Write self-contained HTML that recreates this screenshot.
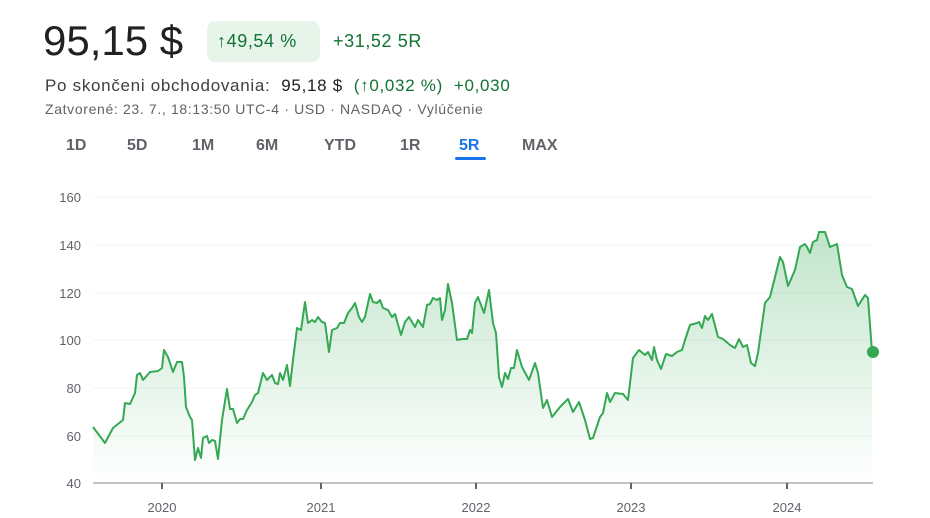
<!DOCTYPE html>
<html><head><meta charset="utf-8"><style>
body{margin:0;width:930px;height:518px;background:#fff;font-family:"Liberation Sans",Arial,sans-serif;position:relative;overflow:hidden}
.a{position:absolute;white-space:nowrap}
</style></head><body>
<div class="a" style="left:43px;top:17px;font-size:42px;color:#202124">95,15 $</div>
<div class="a" style="left:207px;top:21px;width:113px;height:41px;background:#e6f4ea;border-radius:8px"></div>
<div class="a" style="left:217px;top:31px;font-size:18px;color:#137333;letter-spacing:0.6px">↑49,54 %</div>
<div class="a" style="left:333px;top:31px;font-size:18px;color:#137333;letter-spacing:0.6px">+31,52 5R</div>
<div class="a" style="left:45px;top:76px;font-size:17px;color:#3c4043;letter-spacing:0.7px">Po skončeni obchodovania:&nbsp; <span style="color:#202124">95,18 $</span>&nbsp; <span style="color:#137333">(↑0,032 %)&nbsp; +0,030</span></div>
<div class="a" style="left:45px;top:101px;font-size:14px;color:#5f6368;letter-spacing:0.65px">Zatvorené: 23. 7., 18:13:50 UTC-4 · USD · NASDAQ · Vylúčenie</div>
<div class="a" style="top:137px;font-size:16px;color:#5f6368;left:0;width:930px;font-weight:bold">
<span class="a" style="left:66px">1D</span><span class="a" style="left:127px">5D</span><span class="a" style="left:192px">1M</span><span class="a" style="left:256px">6M</span><span class="a" style="left:324px">YTD</span><span class="a" style="left:400px">1R</span><span class="a" style="left:459px;color:#1a73e8">5R</span><span class="a" style="left:522px">MAX</span></div>
<div class="a" style="left:455px;top:157px;width:31px;height:3px;background:#1a73e8;border-radius:2px"></div>
<svg class="a" style="left:0;top:0" width="930" height="518">
<defs><linearGradient id="g" x1="0" y1="0" x2="0" y2="1"><stop offset="0" stop-color="#34a853" stop-opacity="0.3"/><stop offset="1" stop-color="#34a853" stop-opacity="0"/></linearGradient></defs>
<g stroke="#f1f3f4" stroke-width="1">
<line x1="93" x2="873" y1="197" y2="197"/><line x1="93" x2="873" y1="245" y2="245"/><line x1="93" x2="873" y1="293" y2="293"/><line x1="93" x2="873" y1="340" y2="340"/><line x1="93" x2="873" y1="388" y2="388"/><line x1="93" x2="873" y1="436" y2="436"/></g>
<g font-size="13" fill="#5f6368" text-anchor="end" font-family="Liberation Sans,Arial,sans-serif">
<text x="81" y="202">160</text><text x="81" y="250">140</text><text x="81" y="298">120</text><text x="81" y="345">100</text><text x="81" y="393">80</text><text x="81" y="441">60</text><text x="81" y="488">40</text></g>
<g font-size="13" fill="#5f6368" text-anchor="middle" font-family="Liberation Sans,Arial,sans-serif">
<text x="162" y="512">2020</text><text x="321" y="512">2021</text><text x="476" y="512">2022</text><text x="631" y="512">2023</text><text x="787" y="512">2024</text></g>
<path d="M93,427 L105,443 L113,428 L123,420 L125,403 L130,404 L135,393 L137,375 L140,373 L143,380 L150,372 L158,371 L162,368 L164,350 L168,357 L173,372 L177,362 L182,362 L184,377 L186,407 L190,417 L192,420 L195,460 L198,448 L201,458 L203,438 L207,436 L209,443 L212,440 L215,441 L218,459 L222,420 L227,389 L230,409 L233,409 L237,423 L240,419 L243,419 L247,410 L252,402 L255,395 L258,393 L263,373 L267,380 L272,375 L275,383 L278,384 L280,373 L283,380 L287,365 L290,386 L293,360 L297,328 L301,330 L305,302 L308,323 L312,320 L315,322 L318,317 L322,322 L325,323 L329,352 L332,330 L337,328 L340,323 L344,323 L348,313 L352,308 L355,303 L359,317 L362,322 L365,317 L370,294 L373,302 L377,303 L380,300 L383,308 L388,310 L392,317 L395,314 L401,335 L405,322 L409,317 L415,327 L418,320 L423,327 L427,305 L430,304 L433,298 L437,300 L440,298 L442,320 L445,310 L448,284 L452,303 L457,340 L462,339 L467,339 L470,330 L472,333 L475,303 L478,297 L484,313 L489,290 L493,323 L496,333 L499,377 L502,387 L505,373 L508,379 L511,368 L514,368 L517,350 L522,367 L529,380 L535,363 L538,373 L543,408 L547,400 L552,417 L560,407 L568,399 L573,412 L579,402 L585,420 L590,439 L593,438 L600,417 L603,413 L607,393 L610,402 L615,393 L623,394 L628,400 L633,358 L639,350 L645,355 L648,352 L652,360 L654,347 L657,360 L661,369 L666,354 L672,356 L677,352 L682,350 L685,340 L690,325 L697,323 L699,322 L702,328 L705,316 L708,320 L712,314 L718,337 L723,339 L730,345 L735,348 L739,339 L743,347 L747,345 L751,363 L755,366 L758,353 L765,303 L770,297 L780,257 L783,262 L788,286 L795,270 L800,247 L805,244 L807,247 L810,253 L813,242 L817,240 L819,232 L825,232 L830,247 L837,244 L842,275 L847,287 L852,289 L858,306 L865,295 L868,298 L872,352" fill="none" stroke="#34a853" stroke-width="2" stroke-linejoin="round"/>
<path d="M93,427 L105,443 L113,428 L123,420 L125,403 L130,404 L135,393 L137,375 L140,373 L143,380 L150,372 L158,371 L162,368 L164,350 L168,357 L173,372 L177,362 L182,362 L184,377 L186,407 L190,417 L192,420 L195,460 L198,448 L201,458 L203,438 L207,436 L209,443 L212,440 L215,441 L218,459 L222,420 L227,389 L230,409 L233,409 L237,423 L240,419 L243,419 L247,410 L252,402 L255,395 L258,393 L263,373 L267,380 L272,375 L275,383 L278,384 L280,373 L283,380 L287,365 L290,386 L293,360 L297,328 L301,330 L305,302 L308,323 L312,320 L315,322 L318,317 L322,322 L325,323 L329,352 L332,330 L337,328 L340,323 L344,323 L348,313 L352,308 L355,303 L359,317 L362,322 L365,317 L370,294 L373,302 L377,303 L380,300 L383,308 L388,310 L392,317 L395,314 L401,335 L405,322 L409,317 L415,327 L418,320 L423,327 L427,305 L430,304 L433,298 L437,300 L440,298 L442,320 L445,310 L448,284 L452,303 L457,340 L462,339 L467,339 L470,330 L472,333 L475,303 L478,297 L484,313 L489,290 L493,323 L496,333 L499,377 L502,387 L505,373 L508,379 L511,368 L514,368 L517,350 L522,367 L529,380 L535,363 L538,373 L543,408 L547,400 L552,417 L560,407 L568,399 L573,412 L579,402 L585,420 L590,439 L593,438 L600,417 L603,413 L607,393 L610,402 L615,393 L623,394 L628,400 L633,358 L639,350 L645,355 L648,352 L652,360 L654,347 L657,360 L661,369 L666,354 L672,356 L677,352 L682,350 L685,340 L690,325 L697,323 L699,322 L702,328 L705,316 L708,320 L712,314 L718,337 L723,339 L730,345 L735,348 L739,339 L743,347 L747,345 L751,363 L755,366 L758,353 L765,303 L770,297 L780,257 L783,262 L788,286 L795,270 L800,247 L805,244 L807,247 L810,253 L813,242 L817,240 L819,232 L825,232 L830,247 L837,244 L842,275 L847,287 L852,289 L858,306 L865,295 L868,298 L872,352 L872,483 L93,483Z" fill="url(#g)" stroke="none"/>
<line x1="93" x2="873" y1="483" y2="483" stroke="#80868b" stroke-width="1"/>
<g stroke="#5f6368" stroke-width="2"><line x1="162" x2="162" y1="483" y2="489"/><line x1="321" x2="321" y1="483" y2="489"/><line x1="476" x2="476" y1="483" y2="489"/><line x1="631" x2="631" y1="483" y2="489"/><line x1="787" x2="787" y1="483" y2="489"/></g>
<circle cx="873" cy="352" r="6" fill="#34a853"/>
</svg>
</body></html>
